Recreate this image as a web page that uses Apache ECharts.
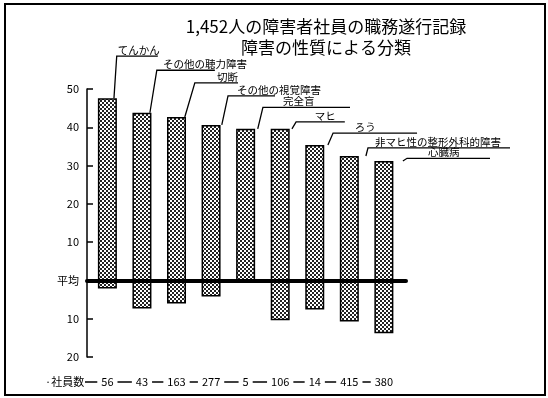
<!DOCTYPE html>
<html>
<head>
<meta charset="utf-8">
<script src="https://cdn.jsdelivr.net/npm/echarts@6/dist/echarts.min.js"></script>
<style>
  html, body { margin: 0; padding: 0; background: #fff; }
  #chart { width: 548px; height: 398px; }
</style>
</head>
<body>
<div id="chart"></div>
<script>
// 障害の種類
const categories = ['てんかん', 'その他の聴力障害', '切断', 'その他の視覚障害', '完全盲', 'マヒ', 'ろう', '非マヒ性の整形外科的障害', '心臓病'];
// 平均より上（%）
const aboveAvg = [47.6, 43.8, 42.7, 40.6, 39.6, 39.6, 35.4, 32.5, 31.2];
// 平均より下（%）
const belowAvg = [2.1, 7.3, 6.0, 4.2, 0, 10.4, 7.6, 10.7, 13.8];
// 社員数
const employees = [56, 43, 163, 277, 5, 106, 14, 415, 380];
const titleLines = ['1,452人の障害者社員の職務遂行記録', '障害の性質による分類'];

// 引き出し線の配置 [下端x, 上端x, 上端y, 線の終わりx, 文字の左端x]（データ単位）
const leaderLayout = [
  [0.19, 0.27, 58.6, 1.46, 0.30],
  [1.23, 1.43, 54.9, 3.11, 1.61],
  [2.24, 2.53, 51.6, 3.78, 3.17],
  [3.31, 3.49, 48.2, 4.85, 3.75],
  [4.35, 4.50, 45.2, 7.02, 5.08],
  [5.34, 5.46, 41.4, 6.87, 6.00],
  [6.38, 6.53, 38.5, 8.96, 7.16],
  [7.48, 7.54, 34.6, 11.65, 7.74],
  [8.55, 8.67, 31.9, 11.07, 9.28]
];

const FONT = '"Noto Sans CJK JP", "Noto Sans", sans-serif';

// 網点パターン
const dots = document.createElement('canvas');
dots.width = 4;
dots.height = 4;
const ctx = dots.getContext('2d');
ctx.fillStyle = '#fff';
ctx.fillRect(0, 0, 4, 4);
ctx.fillStyle = '#222';
ctx.fillRect(0, 0, 2, 2);
ctx.fillRect(2, 2, 2, 2);

const barStyle = {
  color: { image: dots, repeat: 'repeat' },
  borderColor: '#000',
  borderWidth: 1.5
};

const chart = echarts.init(document.getElementById('chart'));

const option = {
  backgroundColor: '#fff',
  animation: false,
  grid: { left: 87, right: 142, top: 89, bottom: 41 },
  xAxis: {
    type: 'value',
    min: -0.59,
    max: 8.64,
    z: 5,
    axisLine: { onZero: true, lineStyle: { color: '#000', width: 4 } },
    axisTick: { show: false },
    axisLabel: { show: false },
    splitLine: { show: false }
  },
  yAxis: {
    type: 'value',
    min: -20,
    max: 50,
    interval: 10,
    axisLine: { show: true, onZero: false, lineStyle: { color: '#000', width: 1.5 } },
    axisTick: { show: true, inside: true, length: 6, lineStyle: { color: '#000', width: 1.5 } },
    axisLabel: {
      color: '#000',
      fontSize: 11,
      fontFamily: FONT,
      margin: 8,
      formatter: function (v) { return v === 0 ? '平均' : String(Math.abs(v)); }
    },
    splitLine: { show: false }
  },
  series: [
    {
      name: '平均以上',
      type: 'bar',
      barWidth: 19,
      barGap: '-100%',
      itemStyle: barStyle,
      data: aboveAvg.map((v, i) => [i, v])
    },
    {
      name: '平均以下',
      type: 'bar',
      barWidth: 19,
      barGap: '-100%',
      itemStyle: barStyle,
      data: belowAvg.map((v, i) => [i, -v])
    }
  ]
};

chart.setOption(option);

// 注記（タイトル、引き出し線、社員数）
const toPx = (p) => chart.convertToPixel({ gridIndex: 0 }, p);
const graphics = [];

graphics.push({
  type: 'rect',
  shape: { x: 5, y: 4, width: 540, height: 391 },
  style: { fill: 'none', stroke: '#000', lineWidth: 2 },
  z: 10
});

graphics.push({
  type: 'text',
  x: 326, y: 16,
  style: {
    text: titleLines.join('\n'),
    font: '17px ' + FONT,
    fill: '#000',
    align: 'center', textAlign: 'center',
    lineHeight: 21
  },
  z: 10
});

leaderLayout.forEach((l, i) => {
  const bottom = toPx([l[0], aboveAvg[i]]);
  const top = toPx([l[1], l[2]]);
  const end = toPx([l[3], l[2]]);
  const textLeft = toPx([l[4], l[2]]);
  graphics.push({
    type: 'polyline',
    shape: { points: [bottom, top, end] },
    style: { stroke: '#000', lineWidth: 1.3, fill: 'none' },
    z: 10
  });
  graphics.push({
    type: 'text',
    x: textLeft[0], y: top[1] - 1,
    style: {
      text: categories[i],
      font: '10.5px ' + FONT,
      fill: '#000',
      align: 'left', textAlign: 'left',
      verticalAlign: 'bottom', textVerticalAlign: 'bottom'
    },
    z: 10
  });
});

const rowY = 382;
const lastX = toPx([employees.length - 1, 0])[0];
graphics.push({
  type: 'text',
  x: 45, y: rowY,
  style: {
    text: '·社員数',
    font: '11px ' + FONT,
    fill: '#000',
    align: 'left', textAlign: 'left',
    verticalAlign: 'middle', textVerticalAlign: 'middle'
  },
  z: 10
});
graphics.push({
  type: 'line',
  shape: { x1: 85, y1: rowY, x2: lastX, y2: rowY },
  style: { stroke: '#000', lineWidth: 1.3 },
  z: 10
});
employees.forEach((n, i) => {
  const x = toPx([i, 0])[0];
  graphics.push({
    type: 'text',
    x: x, y: rowY,
    style: {
      text: String(n),
      font: '11px ' + FONT,
      fill: '#000',
      backgroundColor: '#fff',
      padding: [0, 4],
      align: 'center', textAlign: 'center',
      verticalAlign: 'middle', textVerticalAlign: 'middle'
    },
    z: 11
  });
});

chart.setOption({ graphic: graphics });
</script>
</body>
</html>
